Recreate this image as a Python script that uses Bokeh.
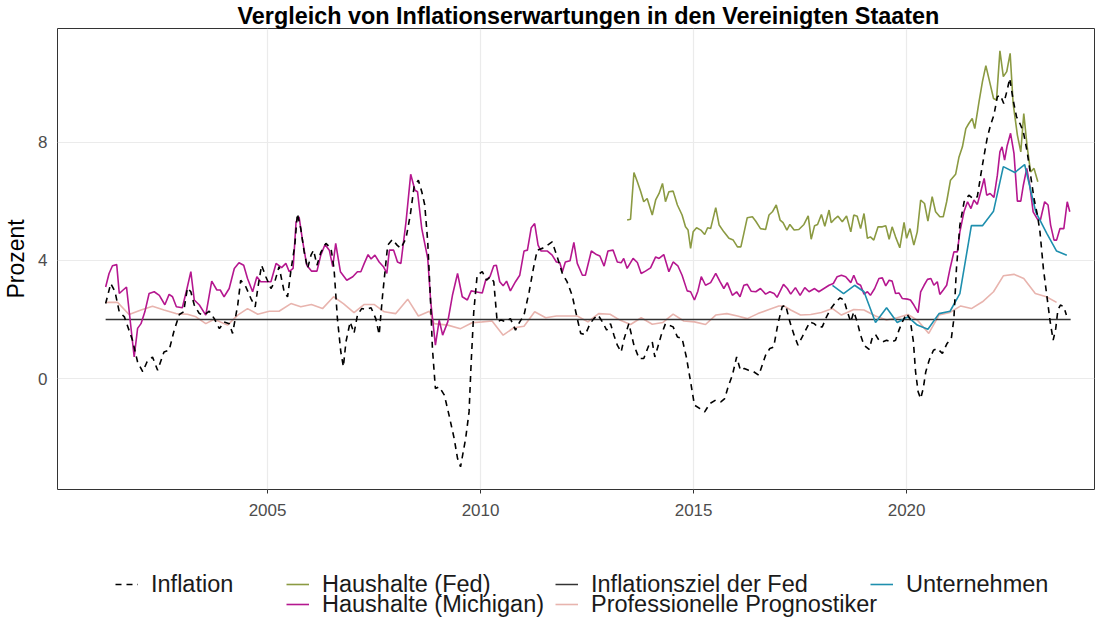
import math
from bokeh.plotting import figure
from bokeh.layouts import column
from bokeh.models import Range1d, Legend, LegendItem, FixedTicker
from bokeh.embed import file_html
from bokeh.resources import INLINE

# ---------------- data ----------------
infl_year = [2001.20, 2001.32, 2001.42, 2001.52, 2001.64, 2001.83, 2001.95, 2002.07, 2002.17, 2002.30,
             2002.42, 2002.57, 2002.69, 2002.81, 2002.93, 2003.03, 2003.12, 2003.20, 2003.28, 2003.40,
             2003.51, 2003.63, 2003.75, 2003.87, 2003.98, 2004.10, 2004.18, 2004.30, 2004.37, 2004.49,
             2004.61, 2004.71, 2004.77, 2004.86, 2004.96, 2005.08, 2005.17, 2005.27, 2005.39, 2005.47,
             2005.55, 2005.64, 2005.70, 2005.78, 2005.86, 2005.94, 2006.02, 2006.08, 2006.16, 2006.25,
             2006.37, 2006.49, 2006.56, 2006.64, 2006.72, 2006.78, 2006.84, 2006.94, 2007.03, 2007.11,
             2007.21, 2007.31, 2007.43, 2007.54, 2007.62, 2007.70, 2007.82, 2007.93, 2008.04, 2008.13,
             2008.25, 2008.35, 2008.44, 2008.54, 2008.62, 2008.69, 2008.76, 2008.82, 2008.87, 2008.94,
             2009.03, 2009.15, 2009.26, 2009.38, 2009.46, 2009.53, 2009.65, 2009.73, 2009.78, 2009.84,
             2009.92, 2010.04, 2010.14, 2010.23, 2010.31, 2010.39, 2010.48, 2010.59, 2010.70, 2010.82,
             2010.92, 2011.02, 2011.14, 2011.24, 2011.33, 2011.45, 2011.57, 2011.68, 2011.80, 2011.92,
             2012.03, 2012.15, 2012.27, 2012.35, 2012.46, 2012.57, 2012.66, 2012.76, 2012.86, 2012.96,
             2013.05, 2013.13, 2013.21, 2013.30, 2013.36, 2013.48, 2013.60, 2013.72, 2013.83, 2013.95,
             2014.03, 2014.09, 2014.15, 2014.24, 2014.34, 2014.42, 2014.52, 2014.62, 2014.73, 2014.83,
             2014.93, 2015.02, 2015.15, 2015.26, 2015.38, 2015.52, 2015.64, 2015.73, 2015.81, 2015.91,
             2016.01, 2016.10, 2016.19, 2016.29, 2016.41, 2016.53, 2016.61, 2016.69, 2016.79, 2016.88,
             2016.98, 2017.08, 2017.16, 2017.26, 2017.36, 2017.45, 2017.55, 2017.63, 2017.73, 2017.83,
             2017.91, 2018.02, 2018.12, 2018.22, 2018.34, 2018.44, 2018.53, 2018.61, 2018.69, 2018.76,
             2018.84, 2018.92, 2019.00, 2019.12, 2019.20, 2019.27, 2019.35, 2019.43, 2019.53, 2019.64,
             2019.74, 2019.82, 2019.90, 2020.00, 2020.08, 2020.16, 2020.21, 2020.27, 2020.33, 2020.39,
             2020.45, 2020.53, 2020.63, 2020.72, 2020.84, 2020.95, 2021.05, 2021.11, 2021.17, 2021.25,
             2021.35, 2021.46, 2021.56, 2021.66, 2021.74, 2021.82, 2021.89, 2021.97, 2022.05, 2022.13,
             2022.20, 2022.28, 2022.36, 2022.42, 2022.50, 2022.58, 2022.66, 2022.74, 2022.83, 2022.91,
             2022.99, 2023.07, 2023.13, 2023.21, 2023.29, 2023.37, 2023.44, 2023.50, 2023.55, 2023.61,
             2023.69, 2023.75]
infl_val = [2.54, 3.22, 2.94, 2.26, 2.09, 1.30, 0.56, 0.23, 0.56, 0.73,
            0.28, 0.90, 0.96, 1.64, 2.17, 2.26, 3.07, 2.94, 2.49, 2.20,
            2.15, 2.28, 2.03, 1.69, 1.92, 1.86, 1.53, 2.49, 3.33, 3.11,
            2.71, 2.43, 3.05, 3.84, 3.45, 3.05, 3.28, 3.79, 2.94, 2.77,
            3.67, 4.52, 5.59, 5.08, 4.29, 3.73, 4.18, 4.35, 3.84, 4.27,
            4.58, 4.41, 3.73, 2.03, 0.90, 0.40, 1.24, 1.92, 1.53, 2.15,
            2.37, 2.34, 2.40, 2.03, 1.49, 2.82, 4.52, 4.71, 4.52, 4.41,
            4.75, 5.54, 6.50, 6.72, 6.33, 5.88, 4.63, 2.82, 1.02, -0.34,
            -0.28, -0.56, -1.24, -2.03, -2.71, -2.99, -2.03, -1.13, 0.56, 2.26,
            3.50, 3.62, 3.33, 3.45, 3.28, 1.92, 1.98, 1.92, 2.03, 1.64,
            1.92, 2.15, 2.94, 3.73, 4.35, 4.41, 4.52, 4.63, 4.12, 3.56,
            3.28, 2.82, 2.03, 1.53, 1.49, 1.86, 2.03, 2.15, 1.92, 1.64,
            1.86, 1.47, 1.13, 0.90, 1.30, 1.86, 1.13, 0.68, 0.68, 1.13,
            1.24, 0.73, 1.02, 1.47, 1.86, 1.81, 1.75, 1.41, 1.36, 0.73,
            -0.11, -0.90, -1.02, -1.13, -0.85, -0.73, -0.79, -0.68, -0.28, 0.11,
            0.73, 0.28, 0.34, 0.28, 0.23, 0.11, 0.45, 0.79, 1.02, 1.07,
            1.86, 2.43, 2.49, 1.92, 1.47, 1.13, 1.41, 1.64, 1.92, 1.86,
            1.75, 1.75, 2.09, 2.37, 2.60, 2.73, 2.66, 2.26, 1.92, 2.26,
            1.92, 1.47, 1.13, 0.99, 1.41, 1.49, 1.30, 1.24, 1.30, 1.24,
            1.30, 1.64, 1.92, 2.20, 2.03, 1.24, 0.23, -0.45, -0.68, -0.34,
            0.23, 0.62, 0.96, 1.02, 0.85, 1.19, 1.36, 2.03, 3.73, 5.20,
            5.99, 6.21, 6.10, 6.16, 6.89, 7.57, 8.14, 8.59, 8.93, 9.55,
            9.60, 9.32, 9.77, 10.17, 9.44, 8.87, 8.64, 8.36, 7.68, 6.89,
            6.10, 5.54, 4.97, 3.73, 2.82, 1.92, 1.30, 1.69, 2.32, 2.49,
            2.43, 2.15]

fed_year = [2013.44, 2013.52, 2013.60, 2013.68, 2013.76, 2013.83, 2013.91, 2014.03, 2014.11, 2014.19,
            2014.27, 2014.34, 2014.42, 2014.52, 2014.62, 2014.73, 2014.81, 2014.87, 2014.93, 2014.99,
            2015.07, 2015.17, 2015.26, 2015.33, 2015.40, 2015.52, 2015.60, 2015.71, 2015.83, 2015.93,
            2016.03, 2016.11, 2016.18, 2016.26, 2016.38, 2016.46, 2016.57, 2016.69, 2016.77, 2016.85,
            2016.94, 2017.03, 2017.10, 2017.19, 2017.26, 2017.36, 2017.47, 2017.59, 2017.69, 2017.76,
            2017.84, 2017.91, 2018.00, 2018.08, 2018.18, 2018.23, 2018.30, 2018.39, 2018.49, 2018.59,
            2018.69, 2018.76, 2018.84, 2018.92, 2019.00, 2019.08, 2019.15, 2019.23, 2019.33, 2019.43,
            2019.51, 2019.59, 2019.66, 2019.74, 2019.84, 2019.94, 2020.00, 2020.08, 2020.17, 2020.25,
            2020.33, 2020.42, 2020.50, 2020.60, 2020.68, 2020.78, 2020.86, 2020.94, 2021.03, 2021.15,
            2021.23, 2021.31, 2021.39, 2021.46, 2021.54, 2021.60, 2021.70, 2021.78, 2021.86, 2021.93,
            2022.04, 2022.11, 2022.19, 2022.27, 2022.35, 2022.43, 2022.50, 2022.60, 2022.68, 2022.75,
            2022.83, 2022.91, 2022.99, 2023.08]
fed_val = [5.37, 5.40, 6.98, 6.67, 6.33, 5.99, 6.10, 5.54, 6.05, 6.27,
           6.61, 5.99, 6.33, 6.35, 5.88, 5.54, 5.14, 5.03, 4.41, 4.97,
           5.11, 5.03, 4.88, 5.11, 5.08, 5.79, 5.20, 4.97, 4.75, 4.69,
           4.46, 4.46, 4.92, 5.45, 5.48, 5.33, 5.08, 5.05, 5.54, 5.65,
           5.88, 5.37, 5.28, 5.03, 5.22, 5.03, 5.05, 5.22, 5.51, 4.72,
           5.18, 5.22, 5.56, 5.16, 5.71, 5.28, 5.39, 5.50, 5.31, 5.51,
           4.97, 5.54, 5.50, 5.08, 5.59, 4.75, 4.80, 4.69, 5.14, 5.14,
           5.18, 4.72, 5.14, 4.80, 4.43, 5.29, 4.75, 5.08, 4.52, 4.97,
           6.05, 5.93, 5.33, 6.16, 5.65, 5.48, 5.48, 5.99, 6.72, 6.92,
           7.51, 7.85, 8.47, 8.64, 8.81, 8.47, 9.38, 10.06, 10.60, 10.17,
           9.49, 9.44, 11.10, 10.23, 10.40, 11.02, 9.32, 8.25, 7.68, 8.98,
           7.85, 7.00, 7.12, 6.67]

mich_year = [2001.20, 2001.28, 2001.36, 2001.46, 2001.52, 2001.61, 2001.69, 2001.87, 2001.95, 2002.03,
             2002.12, 2002.22, 2002.34, 2002.46, 2002.59, 2002.69, 2002.77, 2002.86, 2003.00, 2003.11,
             2003.20, 2003.28, 2003.40, 2003.55, 2003.69, 2003.81, 2003.89, 2003.98, 2004.10, 2004.22,
             2004.33, 2004.44, 2004.53, 2004.65, 2004.75, 2004.84, 2004.96, 2005.08, 2005.20, 2005.33,
             2005.43, 2005.51, 2005.60, 2005.67, 2005.74, 2005.82, 2005.92, 2006.03, 2006.16, 2006.25,
             2006.35, 2006.45, 2006.53, 2006.60, 2006.71, 2006.86, 2007.00, 2007.11, 2007.19, 2007.27,
             2007.36, 2007.43, 2007.52, 2007.62, 2007.72, 2007.80, 2007.86, 2007.96, 2008.05, 2008.13,
             2008.25, 2008.36, 2008.46, 2008.52, 2008.62, 2008.76, 2008.83, 2008.94, 2009.03, 2009.11,
             2009.23, 2009.34, 2009.46, 2009.57, 2009.69, 2009.78, 2009.88, 2010.04, 2010.12, 2010.22,
             2010.31, 2010.37, 2010.45, 2010.53, 2010.61, 2010.70, 2010.82, 2010.92, 2011.02, 2011.10,
             2011.19, 2011.27, 2011.35, 2011.42, 2011.57, 2011.68, 2011.78, 2011.86, 2011.92, 2011.99,
             2012.10, 2012.19, 2012.27, 2012.39, 2012.46, 2012.60, 2012.72, 2012.80, 2012.90, 2012.99,
             2013.11, 2013.21, 2013.30, 2013.36, 2013.44, 2013.58, 2013.68, 2013.77, 2013.87, 2013.99,
             2014.11, 2014.19, 2014.30, 2014.42, 2014.52, 2014.63, 2014.73, 2014.85, 2014.93, 2015.02,
             2015.10, 2015.18, 2015.28, 2015.40, 2015.52, 2015.62, 2015.71, 2015.79, 2015.91, 2016.01,
             2016.09, 2016.18, 2016.26, 2016.35, 2016.46, 2016.57, 2016.69, 2016.79, 2016.89, 2016.96,
             2017.11, 2017.20, 2017.28, 2017.39, 2017.50, 2017.61, 2017.71, 2017.84, 2017.94, 2018.06,
             2018.18, 2018.28, 2018.37, 2018.47, 2018.57, 2018.69, 2018.76, 2018.84, 2018.92, 2019.00,
             2019.08, 2019.15, 2019.25, 2019.35, 2019.43, 2019.51, 2019.59, 2019.66, 2019.74, 2019.82,
             2019.90, 2020.02, 2020.09, 2020.17, 2020.27, 2020.33, 2020.41, 2020.49, 2020.57, 2020.64,
             2020.72, 2020.78, 2020.86, 2020.94, 2021.02, 2021.11, 2021.19, 2021.25, 2021.35, 2021.43,
             2021.51, 2021.58, 2021.66, 2021.74, 2021.82, 2021.88, 2021.96, 2022.05, 2022.13, 2022.19,
             2022.24, 2022.30, 2022.36, 2022.44, 2022.52, 2022.60, 2022.68, 2022.74, 2022.82, 2022.89,
             2022.97, 2023.07, 2023.14, 2023.24, 2023.32, 2023.38, 2023.46, 2023.52, 2023.60, 2023.69,
             2023.77, 2023.83]
mich_val = [3.10, 3.56, 3.82, 3.86, 2.88, 3.00, 3.10, 0.73, 1.70, 1.86,
            2.26, 2.88, 2.94, 2.82, 2.50, 2.85, 2.77, 2.43, 2.40, 3.05,
            3.62, 2.66, 2.49, 2.15, 3.30, 3.00, 3.00, 2.77, 3.05, 3.73,
            3.92, 3.84, 3.39, 2.94, 3.45, 3.28, 3.28, 3.28, 3.90, 3.76,
            3.90, 3.62, 3.73, 5.31, 5.48, 4.69, 3.84, 3.64, 3.64, 4.18,
            4.54, 4.35, 3.79, 4.58, 3.62, 3.33, 3.45, 3.62, 3.62, 3.90,
            4.20, 4.05, 4.18, 3.95, 3.79, 3.56, 4.35, 4.35, 3.95, 3.90,
            5.31, 6.92, 6.38, 6.33, 5.08, 4.07, 2.60, 1.13, 1.98, 1.47,
            1.92, 2.82, 3.56, 2.77, 2.66, 2.97, 2.94, 2.90, 3.33, 3.45,
            3.82, 3.84, 3.28, 3.14, 3.30, 2.97, 3.28, 3.50, 4.32, 4.35,
            5.11, 5.25, 4.52, 4.32, 4.32, 4.18, 3.95, 3.92, 3.62, 3.95,
            3.99, 4.61, 3.90, 3.50, 3.50, 4.32, 4.20, 4.15, 3.81, 4.32,
            4.35, 3.95, 3.92, 4.07, 3.73, 4.07, 3.93, 3.56, 3.64, 3.75,
            4.12, 4.07, 4.20, 3.62, 3.95, 3.82, 3.50, 2.97, 2.94, 2.66,
            2.96, 3.45, 3.16, 3.25, 3.56, 3.28, 3.05, 3.25, 2.82, 2.94,
            2.77, 3.16, 3.19, 2.96, 2.94, 3.05, 2.86, 2.94, 2.88, 2.75,
            3.19, 3.05, 2.86, 3.08, 2.82, 3.08, 2.94, 3.05, 2.94, 3.05,
            3.16, 3.22, 3.45, 3.50, 3.45, 3.25, 3.50, 3.22, 3.16, 2.86,
            2.94, 2.82, 3.05, 3.39, 3.41, 3.14, 3.33, 3.30, 2.88, 2.90,
            2.71, 2.69, 2.66, 2.49, 2.23, 2.94, 3.16, 3.36, 3.39, 3.16,
            3.28, 2.85, 3.00, 3.16, 3.73, 4.29, 4.29, 4.97, 5.67, 5.99,
            5.76, 6.05, 5.90, 6.33, 6.78, 6.21, 6.27, 6.14, 6.89, 7.68,
            7.85, 7.40, 7.89, 8.31, 7.63, 6.01, 6.01, 6.55, 7.12, 6.55,
            5.65, 5.40, 5.37, 5.99, 5.88, 5.20, 4.69, 4.69, 5.08, 5.08,
            5.99, 5.65]

target_year = [2001.20, 2023.85]
target_val = [2.0, 2.0]

spf_year = [2001.20, 2001.48, 2001.75, 2002.03, 2002.30, 2002.57, 2002.85, 2003.12, 2003.32, 2003.55,
            2003.75, 2004.06, 2004.30, 2004.53, 2004.77, 2005.04, 2005.27, 2005.55, 2005.78, 2006.03,
            2006.29, 2006.55, 2006.78, 2007.03, 2007.27, 2007.50, 2007.74, 2008.01, 2008.29, 2008.54,
            2008.80, 2008.91, 2009.23, 2009.53, 2009.80, 2010.04, 2010.27, 2010.53, 2010.78, 2011.02,
            2011.27, 2011.53, 2011.78, 2012.03, 2012.27, 2012.52, 2012.77, 2013.04, 2013.27, 2013.52,
            2013.77, 2014.03, 2014.28, 2014.52, 2014.77, 2015.02, 2015.28, 2015.52, 2015.78, 2016.03,
            2016.26, 2016.51, 2016.77, 2017.00, 2017.12, 2017.28, 2017.51, 2017.75, 2018.00, 2018.26,
            2018.47, 2018.76, 2019.00, 2019.27, 2019.53, 2019.78, 2020.03, 2020.25, 2020.52, 2020.76,
            2021.02, 2021.27, 2021.52, 2021.78, 2022.04, 2022.27, 2022.52, 2022.75, 2023.02, 2023.28,
            2023.52]
spf_val = [2.58, 2.58, 2.17, 2.32, 2.45, 2.32, 2.20, 2.18, 2.09, 1.86,
           2.01, 1.81, 2.15, 2.37, 2.18, 2.28, 2.28, 2.54, 2.43, 2.51,
           2.37, 2.77, 2.54, 2.23, 2.51, 2.51, 2.26, 2.20, 2.69, 2.12,
           2.28, 1.86, 1.81, 1.69, 1.89, 1.92, 1.95, 1.47, 1.72, 1.77,
           2.26, 2.06, 2.12, 2.12, 2.12, 1.92, 2.20, 2.18, 1.98, 1.83,
           2.06, 1.84, 1.90, 2.18, 1.95, 1.92, 1.83, 2.15, 2.20, 2.12,
           2.03, 2.20, 2.34, 2.46, 2.46, 2.32, 2.15, 2.17, 2.24, 2.37,
           2.15, 2.34, 2.32, 2.12, 1.98, 2.06, 2.17, 1.98, 1.53, 2.15,
           2.24, 2.46, 2.37, 2.60, 2.94, 3.48, 3.53, 3.39, 2.88, 2.77,
           2.58]

firm_year = [2018.26, 2018.52, 2018.78, 2019.00, 2019.27, 2019.53, 2019.78, 2020.03, 2020.25, 2020.50,
             2020.76, 2021.02, 2021.25, 2021.52, 2021.78, 2022.04, 2022.27, 2022.54, 2022.77, 2023.03,
             2023.29, 2023.52, 2023.76]
firm_val = [3.16, 2.88, 3.16, 2.94, 1.90, 2.40, 1.90, 2.09, 1.81, 1.67,
            2.20, 2.28, 2.88, 5.18, 5.18, 5.67, 7.18, 6.98, 7.25, 5.65,
            4.92, 4.32, 4.18]

labels = ["Inflation", "Haushalte (Fed)", "Haushalte (Michigan)",
          "Inflationsziel der Fed", "Professionelle Prognostiker", "Unternehmen"]
colors = {"Inflation": "#000000", "Haushalte (Fed)": "#8b9a42",
          "Haushalte (Michigan)": "#b5178f", "Inflationsziel der Fed": "#333333",
          "Professionelle Prognostiker": "#e8b4ae", "Unternehmen": "#1e8fae"}
widths = {"Inflation": 1.6, "Haushalte (Fed)": 1.6, "Haushalte (Michigan)": 1.6,
          "Inflationsziel der Fed": 1.5, "Professionelle Prognostiker": 1.6, "Unternehmen": 1.6}
dashes = {"Inflation": "6 5"}
x_ticks = [2005, 2010, 2015, 2020]
y_ticks = [0, 4, 8]

FONT = "Liberation Sans"

# ---------------- main chart ----------------
p = figure(frame_width=1037, frame_height=461, output_backend="svg", toolbar_location=None,
           x_range=Range1d(2000.07, 2024.41), y_range=Range1d(-3.76, 11.86),
           min_border_left=49, min_border_right=5, min_border_top=22, min_border_bottom=33)

p.title.text = "Vergleich von Inflationserwartungen in den Vereinigten Staaten"
p.title.text_font = FONT
p.title.text_font_size = "23.4px"
p.title.text_font_style = "bold"
p.title.text_color = "#000000"
p.title.align = "left"
p.title.offset = 180
p.title.standoff = 0

p.outline_line_color = "#333333"
p.outline_line_width = 1
p.background_fill_color = "white"
p.border_fill_color = "white"

p.xgrid.grid_line_color = "#ebebeb"
p.ygrid.grid_line_color = "#ebebeb"
p.xgrid.grid_line_width = 1.2
p.ygrid.grid_line_width = 1.2

p.xaxis.ticker = FixedTicker(ticks=x_ticks)
p.yaxis.ticker = FixedTicker(ticks=y_ticks)
for ax in (p.xaxis[0], p.yaxis[0]):
    ax.axis_line_color = None
    ax.minor_tick_line_color = None
    ax.major_label_text_font = FONT
    ax.major_label_text_font_size = "17px"
    ax.major_label_text_color = "#4d4d4d"
    ax.major_tick_in = 0
    ax.major_tick_line_color = "#333333"
p.xaxis.major_tick_out = 4
p.xaxis.major_label_standoff = 10
p.yaxis.major_tick_out = 0
p.yaxis.major_label_standoff = 10
p.yaxis.axis_label = "Prozent"
p.yaxis.axis_label_text_font = FONT
p.yaxis.axis_label_text_font_size = "23px"
p.yaxis.axis_label_text_font_style = "normal"
p.yaxis.axis_label_text_color = "#000000"
p.yaxis.axis_label_standoff = 6

series = {"Professionelle Prognostiker": (spf_year, spf_val),
          "Inflationsziel der Fed": (target_year, target_val),
          "Haushalte (Fed)": (fed_year, fed_val),
          "Haushalte (Michigan)": (mich_year, mich_val),
          "Unternehmen": (firm_year, firm_val),
          "Inflation": (infl_year, infl_val)}
for name, (xs, ys) in series.items():
    kw = {"line_dash": dashes[name]} if name in dashes else {}
    p.line(xs, ys, line_color=colors[name], line_width=widths[name], **kw)

# ---------------- legend strip (separate figure below the chart) ----------------
LEG_H = 96
lg = figure(frame_width=1037, frame_height=LEG_H, output_backend="svg", toolbar_location=None,
            x_range=Range1d(0, 1), y_range=Range1d(0, 1),
            x_axis_location=None, y_axis_location=None,
            min_border_left=49, min_border_right=5, min_border_top=0, min_border_bottom=0)
lg.outline_line_color = None
lg.grid.visible = False
lg.background_fill_color = "white"
lg.border_fill_color = "white"

key_renderers = {}
for name in labels:
    kw = {"line_dash": dashes[name]} if name in dashes else {}
    key_renderers[name] = lg.line([math.nan], [math.nan], line_color=colors[name],
                                  line_width=widths[name], **kw)

# (label, x offset of key, row centre from top of strip)
legend_pos = [("Inflation", 97, 62), ("Haushalte (Fed)", 268, 62), ("Haushalte (Michigan)", 268, 82),
              ("Inflationsziel der Fed", 537, 62), ("Professionelle Prognostiker", 537, 82),
              ("Unternehmen", 852, 62)]
ROW_H = 30
for lab, dx, cy in legend_pos:
    leg = Legend(items=[LegendItem(label=lab, renderers=[key_renderers[lab]])],
                 location=(dx, LEG_H - cy - ROW_H // 2), orientation="vertical",
                 label_text_font=FONT, label_text_font_size="23.5px", label_text_color="#1a1a1a",
                 glyph_width=23, glyph_height=ROW_H, label_height=ROW_H, label_standoff=13,
                 padding=0, margin=0, spacing=0, border_line_color=None,
                 background_fill_alpha=0, label_text_baseline="middle")
    lg.add_layout(leg, "center")

layout = column(p, lg, spacing=0)
open("out.html", "w").write(file_html(layout, INLINE))
